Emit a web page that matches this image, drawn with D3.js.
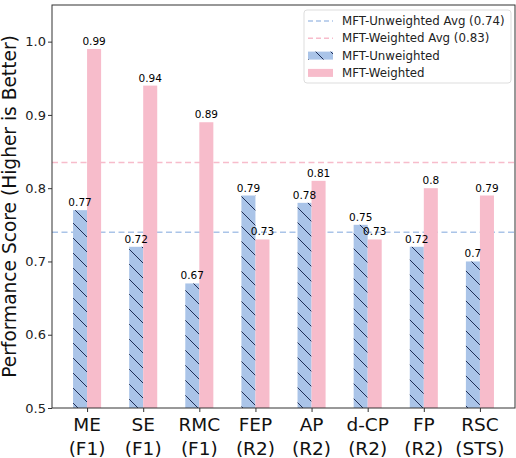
<!DOCTYPE html>
<html>
<head>
<meta charset="utf-8">
<script src="https://cdn.jsdelivr.net/npm/d3@7"></script>
<style>
  body { margin: 0; background: #fff; }
  svg { font-family: "DejaVu Sans", sans-serif; }
</style>
</head>
<body>
<svg id="chart" width="516" height="458"></svg>
<script>
(function() {
  // data
  var metrics = ["ME", "SE", "RMC", "FEP", "AP", "d-CP", "FP", "RSC"];
  var metricTypes = ["(F1)", "(F1)", "(F1)", "(R2)", "(R2)", "(R2)", "(R2)", "(STS)"];
  var unweighted = [0.77, 0.72, 0.67, 0.79, 0.78, 0.75, 0.72, 0.7];
  var weighted = [0.99, 0.94, 0.89, 0.73, 0.81, 0.73, 0.8, 0.79];
  var unweightedAvg = 0.74;
  var weightedAvg = 0.835;
  var yTicks = [0.5, 0.6, 0.7, 0.8, 0.9, 1.0];

  var blue = "#aac4e8", pink = "#f7bccb", hatchColor = "#1e2d55";
  var left = 52, right = 515, top = 5, bottom = 408;
  var barW = 0.25;

  var svg = d3.select("#chart");

  // hatch pattern for the unweighted bars
  var defs = svg.append("defs");
  var pat = defs.append("pattern")
    .attr("id", "hatch")
    .attr("patternUnits", "userSpaceOnUse")
    .attr("width", 15).attr("height", 15);
  pat.append("rect").attr("width", 15).attr("height", 15).attr("fill", blue);
  pat.append("path")
    .attr("d", "M-1,-1 L16,16 M-16,-1 L1,16 M14,-1 L31,16")
    .attr("stroke", hatchColor).attr("stroke-width", 1);

  // scales
  var x = d3.scaleLinear()
    .domain([-0.625, metrics.length - 1 + 0.625])
    .range([left, right]);

  var y = d3.scaleLinear()
    .domain([0.5, 1.05])
    .range([bottom, top]);

  // average lines (under the bars)
  svg.append("line")
    .attr("x1", left).attr("x2", right)
    .attr("y1", y(unweightedAvg)).attr("y2", y(unweightedAvg))
    .attr("stroke", blue).attr("stroke-width", 1.5)
    .attr("stroke-dasharray", "6,3.5");
  svg.append("line")
    .attr("x1", left).attr("x2", right)
    .attr("y1", y(weightedAvg)).attr("y2", y(weightedAvg))
    .attr("stroke", pink).attr("stroke-width", 1.5)
    .attr("stroke-dasharray", "6,3.5");

  // bars
  var groups = svg.selectAll("g.group")
    .data(metrics)
    .enter()
    .append("g")
    .attr("class", "group");

  groups.append("rect")
    .attr("x", (d, i) => x(i - barW))
    .attr("y", (d, i) => y(unweighted[i]))
    .attr("width", (d, i) => x(i) - x(i - barW))
    .attr("height", (d, i) => y(0.5) - y(unweighted[i]))
    .attr("fill", "url(#hatch)");

  groups.append("rect")
    .attr("x", (d, i) => x(i))
    .attr("y", (d, i) => y(weighted[i]))
    .attr("width", (d, i) => x(i + barW) - x(i))
    .attr("height", (d, i) => y(0.5) - y(weighted[i]))
    .attr("fill", pink);

  // value labels
  groups.append("text")
    .attr("x", (d, i) => x(i - barW / 2))
    .attr("y", (d, i) => y(unweighted[i]) - 4)
    .attr("text-anchor", "middle")
    .attr("font-size", 10.5)
    .attr("fill", "#000")
    .text((d, i) => String(unweighted[i]));

  groups.append("text")
    .attr("x", (d, i) => x(i + barW / 2))
    .attr("y", (d, i) => y(weighted[i]) - 4)
    .attr("text-anchor", "middle")
    .attr("font-size", 10.5)
    .attr("fill", "#000")
    .text((d, i) => String(weighted[i]));

  // y axis
  var yAxis = svg.append("g")
    .attr("transform", "translate(" + left + ",0)")
    .call(d3.axisLeft(y).tickValues(yTicks).tickFormat(d3.format(".1f")).tickSizeOuter(0).tickSize(4).tickPadding(2));
  yAxis.select(".domain").remove();
  yAxis.selectAll("text").attr("font-size", 13).attr("font-family", "DejaVu Sans").attr("fill", "#222");
  yAxis.selectAll("line").attr("stroke", "#333");

  // x axis
  var xAxis = svg.append("g")
    .attr("transform", "translate(0," + bottom + ")")
    .call(d3.axisBottom(x).tickValues(d3.range(metrics.length)).tickFormat("").tickSize(4).tickSizeOuter(0));
  xAxis.select(".domain").remove();
  xAxis.selectAll("line").attr("stroke", "#333");

  var xLabels = svg.append("g");
  xLabels.selectAll("text.name")
    .data(metrics)
    .enter()
    .append("text")
    .attr("x", (d, i) => x(i))
    .attr("y", 431)
    .attr("text-anchor", "middle")
    .attr("font-size", 18.5)
    .attr("fill", "#111")
    .text(d => d);
  xLabels.selectAll("text.type")
    .data(metricTypes)
    .enter()
    .append("text")
    .attr("x", (d, i) => x(i))
    .attr("y", 455)
    .attr("text-anchor", "middle")
    .attr("font-size", 18.5)
    .attr("fill", "#111")
    .text(d => d);

  // frame
  svg.append("rect")
    .attr("x", left).attr("y", top)
    .attr("width", right - left).attr("height", bottom - top)
    .attr("fill", "none").attr("stroke", "#333").attr("stroke-width", 1);

  // y label
  svg.append("text")
    .attr("transform", "translate(16," + ((top + bottom) / 2) + ") rotate(-90)")
    .attr("text-anchor", "middle")
    .attr("font-size", 18.6)
    .attr("fill", "#111")
    .text("Performance Score (Higher is Better)");

  // legend
  var legend = svg.append("g").attr("transform", "translate(304,10)");
  legend.append("rect")
    .attr("width", 207).attr("height", 73).attr("rx", 3)
    .attr("fill", "#fff").attr("fill-opacity", 0.8)
    .attr("stroke", "#ddd");

  var items = [
    { label: "MFT-Unweighted Avg (" + unweightedAvg.toFixed(2) + ")", type: "line", color: blue },
    { label: "MFT-Weighted Avg (" + weightedAvg.toFixed(2) + ")", type: "line", color: pink },
    { label: "MFT-Unweighted", type: "hatch" },
    { label: "MFT-Weighted", type: "bar", color: pink }
  ];

  var rowH = 17.3;
  items.forEach(function(it, i) {
    var cy = 11 + i * rowH;
    if (it.type === "line") {
      legend.append("line")
        .attr("x1", 4).attr("x2", 29)
        .attr("y1", cy).attr("y2", cy)
        .attr("stroke", it.color).attr("stroke-width", 1.5)
        .attr("stroke-dasharray", "5,3");
    } else {
      legend.append("rect")
        .attr("x", 4).attr("y", cy - 4)
        .attr("width", 25).attr("height", 8)
        .attr("fill", it.type === "hatch" ? "url(#hatch)" : it.color);
    }
    legend.append("text")
      .attr("x", 38).attr("y", cy + 4)
      .attr("font-size", 11.8)
      .attr("fill", "#222")
      .text(it.label);
  });
})();
</script>
</body>
</html>
